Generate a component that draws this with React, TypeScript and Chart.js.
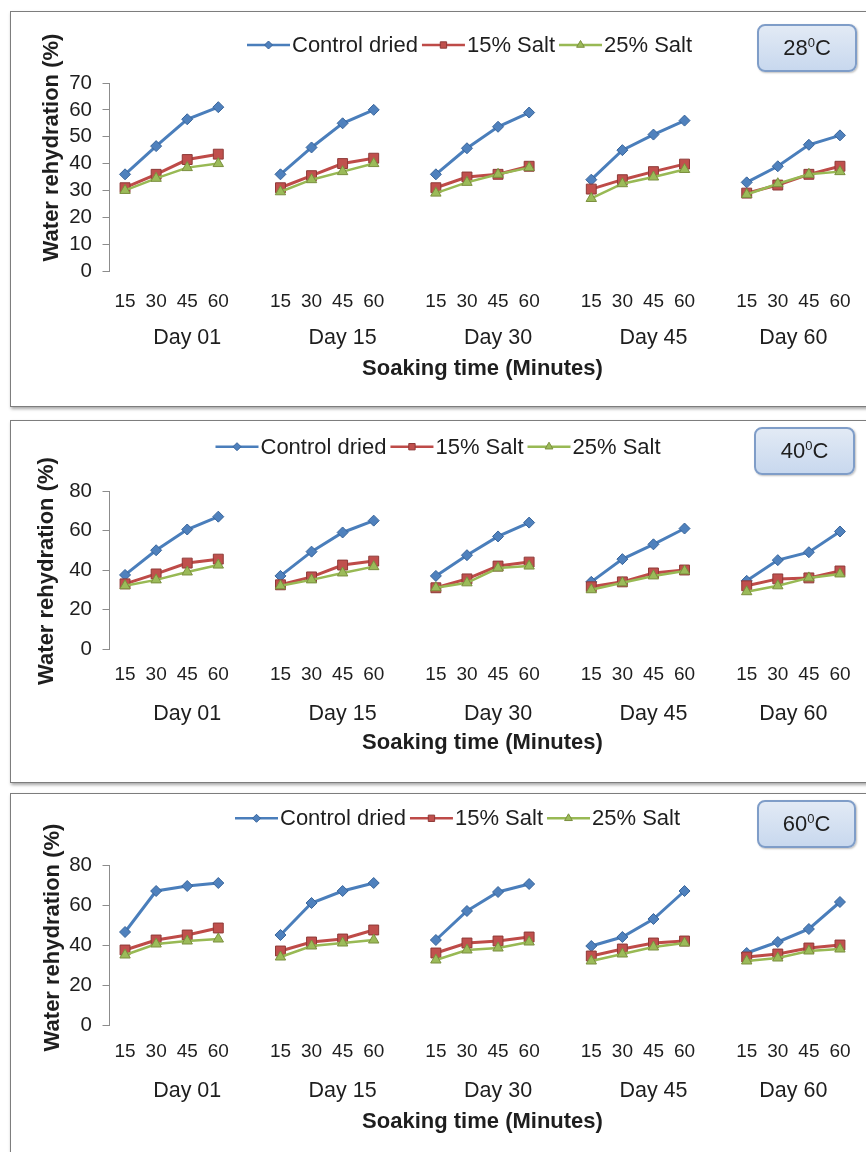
import React, { useEffect, useRef } from 'react';
import { Chart, registerables } from 'chart.js';

Chart.register(...registerables);

// ---------- data ----------
const MINUTES = ['15', '30', '45', '60'];
const DAYS = ['Day 01', 'Day 15', 'Day 30', 'Day 45', 'Day 60'];
const SERIES_NAMES = ['Control dried', '15% Salt', '25% Salt'];
const TEMPS = ['28', '40', '60'];

// 28 °C  (Day 01 | Day 15 | Day 30 | Day 45 | Day 60), each 15/30/45/60 min
const control28 = [36, 46.5, 56.5, 61, 36, 46, 55, 60, 36, 45.7, 53.7, 59, 34, 45, 50.8, 56, 33, 39, 47, 50.5];
const salt15_28 = [31, 36, 41.5, 43.5, 31, 35.5, 40, 42, 31, 35, 36, 39, 30.5, 34, 37, 39.8, 29, 32, 36, 39];
const salt25_28 = [30, 34.5, 38.5, 40, 29.5, 34, 37, 40, 29, 33, 36, 38.5, 27, 32.5, 35, 37.8, 28.5, 32.5, 36, 37];

// 40 °C
const control40 = [37.5, 50, 60.5, 67, 37, 49.3, 59, 65, 37, 47.5, 57, 64, 34, 45.5, 53, 61, 34.5, 45, 49, 59.5];
const salt15_40 = [33, 38, 43.5, 45.5, 32.5, 36.5, 42.5, 44.5, 31, 35.5, 42, 44, 31.5, 34, 38.5, 40, 32, 35.5, 36, 39.5];
const salt25_40 = [32, 35, 39, 42.5, 32, 35, 38.5, 41.7, 31, 33.5, 41, 42, 30, 33.5, 37, 39.5, 29, 32, 36, 38];

// 60 °C
const control60 = [46.5, 67, 69.5, 71, 45, 61, 67, 71, 42.5, 57, 66.5, 70.5, 39.5, 44, 53, 67, 36, 41.5, 48, 61.5];
const salt15_60 = [37.5, 42.5, 45, 48.5, 37, 41.5, 43, 47.5, 36, 41, 42, 44, 34.5, 38, 41, 42, 34, 35.5, 38.5, 40];
const salt25_60 = [35, 40.5, 42, 43, 34, 39.5, 41, 42.5, 32.5, 37.5, 38.5, 41.5, 32, 35.5, 39, 41, 32, 33.5, 37, 38];

const Y_MAX = [70, 80, 80];
const Y_STEP = [10, 20, 20];

// ---------- styles ----------
const FONT = '"Liberation Sans", Arial, sans-serif';
const TEXT = '#1e1e1e';
const AXIS_GRAY = '#8c8c8c';

const SERIES_STYLE = [
  { line: '#4A7EBB', fill: '#4F81BD', edge: '#38649A', marker: 'rectRot', radius: 5.5, width: 3, legendR: 4 },
  { line: '#BE4B48', fill: '#C0504D', edge: '#8E3A38', marker: 'rect', radius: 7, width: 3, legendR: 4.5 },
  { line: '#98B954', fill: '#9BBB59', edge: '#7B8F3E', marker: 'triangle', radius: 6, width: 2.5, legendR: 4.5 },
];

const PANELS = [
  {
    data: [control28, salt15_28, salt25_28], top: 11, height: 396,
    chartTop: 71, chartBottom: 259, tickOff: 30.5, dayOff: 67.5, titleOff: 98,
    legendX: 236, legendY: 33, yTitleX: 41, yTitleY: 135.5,
    badge: { left: 746, top: 12, w: 100, h: 48 },
  },
  {
    data: [control40, salt15_40, salt25_40], top: 420, height: 363,
    chartTop: 70, chartBottom: 228, tickOff: 25.3, dayOff: 65.3, titleOff: 94.3,
    legendX: 204.5, legendY: 25.7, yTitleX: 36, yTitleY: 150,
    badge: { left: 743, top: 6, w: 101, h: 48 },
  },
  {
    data: [control60, salt15_60, salt25_60], top: 793, height: 380,
    chartTop: 71, chartBottom: 231, tickOff: 26.7, dayOff: 66, titleOff: 96.7,
    legendX: 224, legendY: 24.3, yTitleX: 41.5, yTitleY: 143.5,
    badge: { left: 746, top: 6, w: 99, h: 48 },
  },
];

const CANVAS_W = 855;

// ---------- helpers ----------
function buildLabels(): string[] {
  const out: string[] = [];
  DAYS.forEach((_, g) => {
    MINUTES.forEach((m) => out.push(m));
    if (g < DAYS.length - 1) out.push('');
  });
  return out;
}

function withGaps(vals: number[]): (number | null)[] {
  const out: (number | null)[] = [];
  DAYS.forEach((_, g) => {
    MINUTES.forEach((_, m) => out.push(vals[g * MINUTES.length + m]));
    if (g < DAYS.length - 1) out.push(null);
  });
  return out;
}

// centre of each day group (group span includes the spacer category)
function dayPositions(): number[] {
  const span = MINUTES.length + 1;
  return DAYS.map((_, g) => (g < DAYS.length - 1 ? g * span + (span - 1) / 2 : g * span + (MINUTES.length - 1) / 2));
}

function drawMarker(ctx: CanvasRenderingContext2D, style: string, x: number, y: number, r: number, fill: string, edge: string) {
  ctx.beginPath();
  if (style === 'rectRot') {
    ctx.moveTo(x - r, y); ctx.lineTo(x, y - r); ctx.lineTo(x + r, y); ctx.lineTo(x, y + r);
  } else if (style === 'rect') {
    const s = r * Math.SQRT1_2;
    ctx.rect(x - s, y - s, 2 * s, 2 * s);
  } else {
    ctx.moveTo(x, y - r); ctx.lineTo(x + r * 0.866, y + r / 2); ctx.lineTo(x - r * 0.866, y + r / 2);
  }
  ctx.closePath();
  ctx.fillStyle = fill;
  ctx.fill();
  ctx.lineWidth = 1;
  ctx.strokeStyle = edge;
  ctx.stroke();
}

function makeConfig(p: any, idx: number): any {
  const canvasH = p.height - 2;
  const H1 = p.dayOff - 22;
  const xTickPad = p.tickOff - 11.4;
  const dayPad = p.dayOff - H1 - 12.9;
  const H2 = p.titleOff + 13.2 - H1;
  const padBottom = canvasH - p.chartBottom - H1 - H2;
  const dayPos = dayPositions();
  const labels = buildLabels();

  const legendPlugin = {
    id: 'excelLegend',
    afterDraw(chart: any) {
      const ctx = chart.ctx as CanvasRenderingContext2D;
      ctx.save();
      ctx.font = `22px ${FONT}`;
      ctx.textBaseline = 'middle';
      ctx.textAlign = 'left';
      let x = p.legendX;
      const y = p.legendY;
      SERIES_NAMES.forEach((name, i) => {
        const s = SERIES_STYLE[i];
        ctx.strokeStyle = s.line;
        ctx.lineWidth = 2.5;
        ctx.beginPath();
        ctx.moveTo(x, y);
        ctx.lineTo(x + 43, y);
        ctx.stroke();
        drawMarker(ctx, s.marker, x + 21.5, y, s.legendR, s.fill, s.edge);
        x += 45;
        ctx.fillStyle = TEXT;
        ctx.fillText(name, x, y + 1);
        x += ctx.measureText(name).width + 4;
      });
      ctx.restore();
    },
  };

  const yTitlePlugin = {
    id: 'yTitle',
    afterDraw(chart: any) {
      const ctx = chart.ctx as CanvasRenderingContext2D;
      ctx.save();
      ctx.translate(p.yTitleX, p.yTitleY);
      ctx.rotate(-Math.PI / 2);
      ctx.font = `bold 22px ${FONT}`;
      ctx.fillStyle = TEXT;
      ctx.textAlign = 'center';
      ctx.textBaseline = 'middle';
      ctx.fillText('Water rehydration (%)', 0, 0);
      ctx.restore();
    },
  };

  return {
    type: 'line',
    data: {
      labels,
      datasets: SERIES_NAMES.map((name, i) => {
        const s = SERIES_STYLE[i];
        return {
          label: name,
          data: withGaps(p.data[i]),
          borderColor: s.line,
          backgroundColor: s.fill,
          pointBackgroundColor: s.fill,
          pointBorderColor: s.edge,
          pointBorderWidth: 1,
          pointStyle: s.marker,
          pointRadius: s.radius,
          pointHoverRadius: s.radius,
          borderWidth: s.width,
          tension: 0,
          spanGaps: false,
          fill: false,
          order: 3 - i,
        };
      }),
    },
    options: {
      responsive: false,
      animation: false,
      events: [],
      layout: { padding: { top: p.chartTop, left: 0, right: CANVAS_W - 844.5, bottom: padBottom } },
      plugins: { legend: { display: false }, tooltip: { enabled: false }, title: { display: false } },
      scales: {
        x: {
          type: 'category',
          position: 'bottom',
          offset: true,
          weight: 0,
          grid: { display: false, drawTicks: false, drawOnChartArea: false },
          border: { display: false },
          ticks: { autoSkip: false, maxRotation: 0, minRotation: 0, padding: xTickPad, color: TEXT, font: { size: 19, family: FONT } },
          afterFit(s: any) { s.height = H1; s.paddingLeft = 0; s.paddingRight = 0; },
        },
        xDay: {
          type: 'linear',
          position: 'bottom',
          weight: 1,
          min: -0.5,
          max: labels.length - 0.5,
          grid: { display: false, drawTicks: false, drawOnChartArea: false },
          border: { display: false },
          afterBuildTicks(axis: any) { axis.ticks = dayPos.map((v) => ({ value: v })); },
          ticks: {
            autoSkip: false, maxRotation: 0, minRotation: 0, padding: dayPad, color: TEXT,
            font: { size: 21.5, family: FONT },
            callback: (_v: any, i: number) => DAYS[i],
          },
          title: { display: true, text: 'Soaking time (Minutes)', color: TEXT, padding: 0, font: { size: 22, weight: 'bold', family: FONT } },
          afterFit(s: any) { s.height = H2; s.paddingLeft = 0; s.paddingRight = 0; },
        },
        y: {
          type: 'linear',
          position: 'left',
          min: 0,
          max: Y_MAX[idx],
          grid: { display: true, drawOnChartArea: false, drawTicks: true, tickLength: 7, color: AXIS_GRAY, lineWidth: 1 },
          border: { display: true, color: AXIS_GRAY, width: 1 },
          ticks: { autoSkip: false, stepSize: Y_STEP[idx], padding: 10.5, color: TEXT, font: { size: 20.5, family: FONT } },
          afterFit(s: any) { s.width = 98.5; s.paddingTop = 0; s.paddingBottom = 0; },
        },
      },
    },
    plugins: [legendPlugin, yTitlePlugin],
  };
}

function Panel({ p, idx }: { p: any; idx: number }) {
  const ref = useRef<HTMLCanvasElement>(null);
  useEffect(() => {
    const chart = new Chart(ref.current as HTMLCanvasElement, makeConfig(p, idx));
    return () => chart.destroy();
  }, []);
  const b = p.badge;
  return (
    <div
      style={{
        position: 'absolute', left: 10, top: p.top, width: 880, height: p.height, boxSizing: 'border-box',
        border: '1px solid #7d7d7d', boxShadow: '1px 2px 3px rgba(0,0,0,0.35)', background: '#fff',
      }}
    >
      <canvas
        ref={ref}
        width={CANVAS_W}
        height={p.height - 2}
        style={{ position: 'absolute', left: 0, top: 0, width: CANVAS_W, height: p.height - 2 }}
      />
      <div
        style={{
          position: 'absolute', left: b.left, top: b.top, width: b.w, height: b.h, boxSizing: 'border-box',
          border: '2px solid #7f9dc8', borderRadius: 8, background: 'linear-gradient(#e2eaf5, #c8d8ee)',
          boxShadow: '1px 1px 2px rgba(0,0,0,0.25)', display: 'flex', alignItems: 'center', justifyContent: 'center',
          fontFamily: FONT, fontSize: 22, color: TEXT,
        }}
      >
        <span>
          {TEMPS[idx]}
          <span style={{ fontSize: 13, position: 'relative', top: -8 }}>0</span>C
        </span>
      </div>
    </div>
  );
}

export default function App() {
  return (
    <div style={{ position: 'fixed', left: 0, top: 0, width: 866, height: 1152, overflow: 'hidden', background: '#fff' }}>
      {PANELS.map((p, i) => (
        <Panel key={i} p={p} idx={i} />
      ))}
    </div>
  );
}
